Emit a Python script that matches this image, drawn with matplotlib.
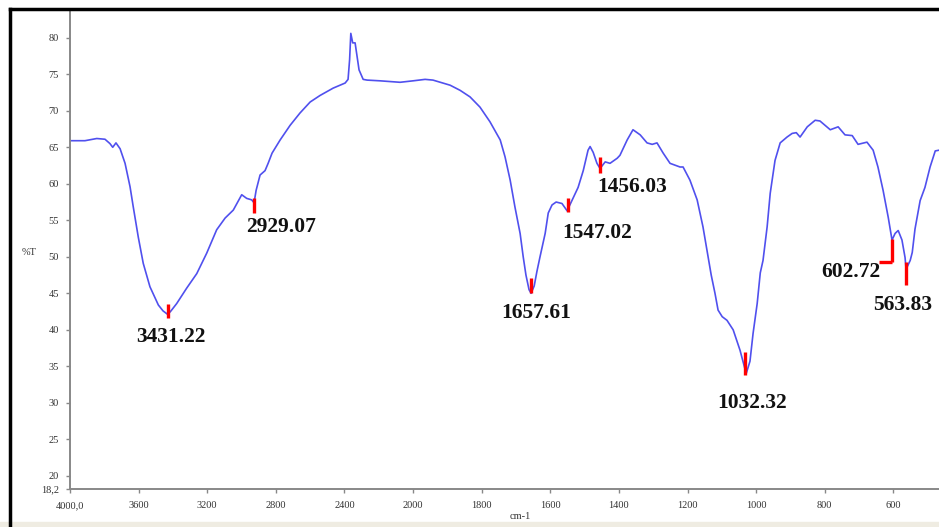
import numpy as np
import matplotlib
matplotlib.use('Agg')
import matplotlib.pyplot as plt
from matplotlib.lines import Line2D

# FTIR spectrum (wavenumber in cm-1, %T)
wavenumber = [4000, 3913, 3844, 3796, 3767, 3751, 3732, 3708, 3679, 3650, 3631, 3602, 3573, 3534,
              3485, 3458, 3430, 3411, 3378, 3320, 3261, 3203, 3145, 3096, 3048, 2999, 2970, 2941,
              2927, 2915, 2892, 2863, 2845, 2822, 2775, 2717, 2659, 2600, 2542,
              2466, 2396, 2379, 2370, 2363, 2352, 2338, 2315, 2291, 2268, 2192, 2076, 2000, 1965,
              1942, 1892, 1863, 1834, 1805, 1776, 1746, 1732, 1717, 1703, 1688, 1679, 1671, 1662,
              1656, 1647, 1639, 1630, 1615, 1606, 1595, 1583, 1566, 1551, 1537, 1519, 1504, 1490,
              1484, 1475, 1464, 1455, 1440, 1426, 1405, 1397, 1376, 1359, 1338, 1318, 1303, 1289,
              1271, 1251, 1222, 1213, 1193, 1172, 1155, 1140, 1131, 1120, 1111, 1099, 1085, 1067,
              1047, 1029, 1018, 1009, 997, 988, 980, 968, 959, 945, 930, 910, 895, 883, 872, 851,
              828, 814, 784, 761, 741, 720, 703, 677, 659, 645, 630, 615, 604, 595, 586, 575, 566,
              563, 551, 545, 537, 522, 508, 493, 484, 478, 467, 400]
transmittance = [65.9, 65.9, 66.2, 66.1, 65.5, 65.0, 65.6, 64.8, 62.8, 59.6, 56.8, 52.7, 49.1, 45.9,
                 43.4, 42.6, 42.1, 42.6, 43.6, 45.7, 47.7, 50.5, 53.7, 55.3, 56.4, 58.5, 58.0, 57.8,
                 57.4, 59.1, 61.2, 61.8, 62.8, 64.2, 66.0, 68.0, 69.7, 71.2, 72.1,
                 73.1, 73.8, 74.3, 77.0, 80.6, 79.3, 79.3, 75.6, 74.3, 74.2, 74.1, 73.9, 74.1, 74.3,
                 74.2, 73.5, 72.8, 71.9, 70.5, 68.5, 66.0, 63.7, 60.5, 56.8, 53.2, 50.0, 47.5, 45.5,
                 45.0, 46.0, 48.0, 50.0, 53.2, 56.0, 57.1, 57.5, 57.3, 56.3, 57.7, 59.5, 61.8, 64.6,
                 65.1, 64.3, 62.8, 62.1, 63.0, 62.8, 63.5, 63.9, 66.0, 67.4, 66.7, 65.6, 65.4, 65.6,
                 64.2, 62.8, 62.3, 62.3, 60.5, 57.8, 54.1, 50.0, 47.5, 45.0, 42.7, 41.8, 41.3, 40.0,
                 37.2, 34.0, 35.7, 39.5, 43.6, 47.8, 49.5, 54.1, 58.7, 63.2, 65.6, 66.4, 66.9, 67.0,
                 66.4, 67.8, 68.7, 68.6, 67.4, 67.8, 66.7, 66.6, 65.4, 65.7, 64.6, 62.3, 59.1, 55.4,
                 52.3, 53.2, 53.6, 52.3, 49.9, 48.3, 49.5, 50.6, 53.8, 57.7, 59.5, 62.3, 63.6, 64.5,
                 64.6, 64.6]

# picked peaks: wavenumber, red marker from/to (%T)
peak_wn = [3431.22, 2929.07, 1657.61, 1547.02, 1456.03, 1032.32, 602.72, 563.83]
peak_lo = [41.6, 56.0, 45.0, 56.1, 61.5, 33.8, 49.3, 46.1]
peak_hi = [43.6, 58.1, 47.1, 58.1, 63.6, 36.9, 52.5, 49.3]
peak_text = ['3431.22', '2929.07', '1657.61', '1547.02', '1456.03', '1032.32', '602.72', '563.83']
# where each label sits (cm-1, %T)
label_pos = [(3411, 39.0), (2770, 54.1), (1641, 42.3), (1464, 53.2),
             (1362, 59.5), (1012, 30.0), (723, 47.9), (572, 43.4)]

xticks = [4000, 3600, 3200, 2800, 2400, 2000, 1800, 1600, 1400, 1200, 1000, 800, 600]
xticklabels = ['4000,0'] + [str(t) for t in xticks[1:]]
yticks = [18.2, 20, 25, 30, 35, 40, 45, 50, 55, 60, 65, 70, 75, 80]
yticklabels = ['18,2'] + [str(t) for t in yticks[1:]]


# spectrometer view: the scale below 2000 cm-1 is stretched 2x
def fwd(w):
    w = np.asarray(w, dtype=float)
    return np.where(w >= 2000, 2000 + (w - 2000) / 2.0, w)


def inv(u):
    u = np.asarray(u, dtype=float)
    return np.where(u >= 2000, 2000 + (u - 2000) * 2.0, u)


W, H = 939, 527
fig = plt.figure(figsize=(W / 100, H / 100), dpi=100)
fig.patch.set_facecolor('white')
ax = fig.add_axes([70 / W, 38 / H, 892 / W, 479 / H])
ax.set_xscale('function', functions=(fwd, inv))
ax.set_xlim(4000, 400)
ax.set_ylim(18.2, 83.8)

ax.plot(wavenumber, transmittance, color='#5050ee', lw=1.2)

serif = ['Liberation Serif', 'DejaVu Serif']
for w, lo, hi in zip(peak_wn, peak_lo, peak_hi):
    ax.plot([w, w], [lo, hi], color='red', lw=2.4, solid_capstyle='butt')
# little hook on the 602.72 marker
ax.plot([641, peak_wn[6]], [peak_lo[6], peak_lo[6]], color='red', lw=2.4, solid_capstyle='butt')

for txt, (lx, ly) in zip(peak_text, label_pos):
    ax.text(lx, ly, txt, ha='center', va='center', fontsize=15.5,
            fontweight='bold', family=serif, color='#111111')

ax.set_xticks(xticks)
ax.set_xticklabels(xticklabels)
ax.set_yticks(yticks)
ax.set_yticklabels(yticklabels)
ax.minorticks_off()
for lab in ax.get_xticklabels() + ax.get_yticklabels():
    lab.set_family(serif)
    lab.set_fontsize(7.5)
    lab.set_color('#333333')
ax.tick_params(direction='out', length=3, width=1, color='#888888', pad=5)
ax.tick_params(axis='x', pad=6)

for s in ['top', 'right']:
    ax.spines[s].set_visible(False)
for s in ['left', 'bottom']:
    ax.spines[s].set_color('#888888')
    ax.spines[s].set_linewidth(1.4)

ax.set_xlabel('cm-1', family=serif, fontsize=7.5, color='#333333')
ax.xaxis.set_label_coords(0.505, -0.049)
ax.set_ylabel('%T', family=serif, fontsize=7.5, rotation=0, color='#333333')
ax.yaxis.set_label_coords(-0.046, 0.484)

# window frame of the screenshot
fig.add_artist(Line2D([10 / W, 1.0], [1 - 8.5 / H, 1 - 8.5 / H], color='black', lw=2.5,
                      transform=fig.transFigure))
fig.add_artist(Line2D([10 / W, 10 / W], [0, 1 - 8.5 / H], color='black', lw=2.5,
                      transform=fig.transFigure))
fig.add_artist(plt.Rectangle((0, 0), 1, 5 / H, color='#efece2', transform=fig.transFigure))

fig.savefig('out.png', dpi=100)
